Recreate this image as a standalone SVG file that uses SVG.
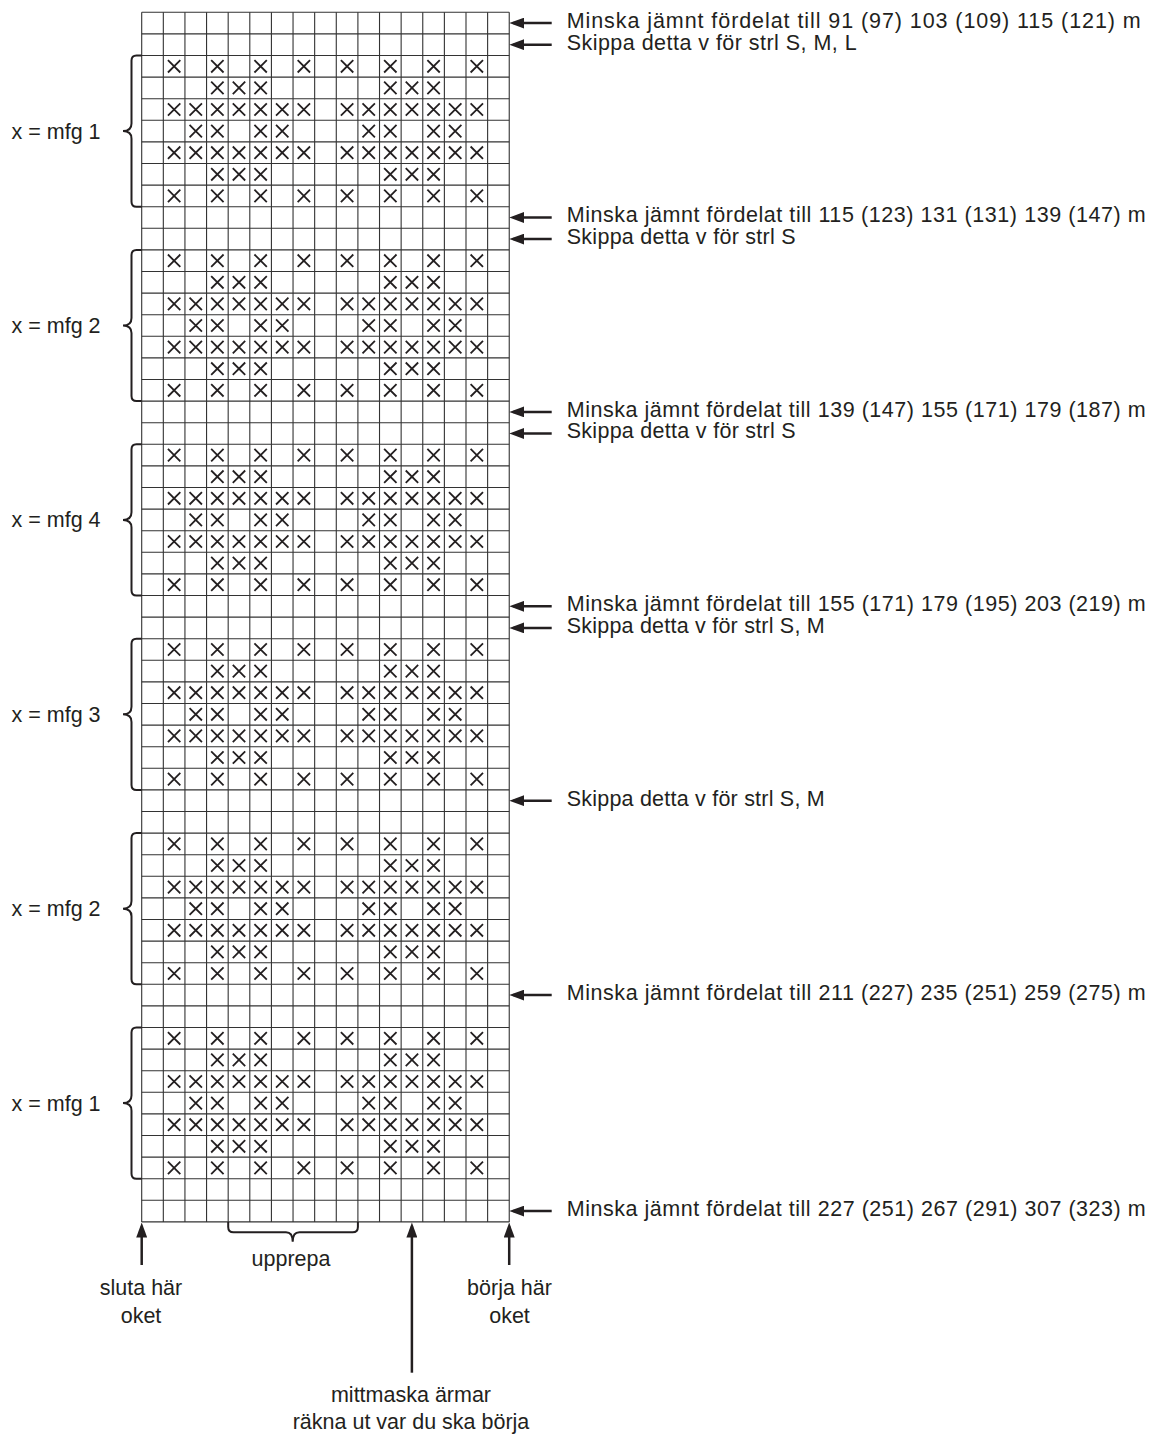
<svg xmlns="http://www.w3.org/2000/svg" xmlns:xlink="http://www.w3.org/1999/xlink" width="1156" height="1437" viewBox="0 0 1156 1437">
<style>
text{font-family:"Liberation Sans",Arial,sans-serif;font-size:21.5px;fill:#231f20}
.note{font-size:21.5px}
.grid{fill:none;stroke:#333;stroke-width:1.1}
.xm{fill:none;stroke:#231f20;stroke-width:1.8}
.brace{fill:none;stroke:#231f20;stroke-width:2}
.conn{fill:none;stroke:#231f20;stroke-width:2.5;marker-end:url(#ah)}
.mid{text-anchor:middle}
</style>
<defs>
<marker id="ah" markerUnits="userSpaceOnUse" markerWidth="16" markerHeight="11" refX="11" refY="5.5" orient="auto"><path d="M0,0 L15,5.5 L0,11 z" fill="#231f20"/></marker>
<path id="x" d="M-6.2,-6.2 L6.2,6.2 M6.2,-6.2 L-6.2,6.2" class="xm"/>
<g id="rA"><use href="#x" x="174.13"/><use href="#x" x="217.37"/><use href="#x" x="260.61"/><use href="#x" x="303.85"/><use href="#x" x="347.09"/><use href="#x" x="390.33"/><use href="#x" x="433.57"/><use href="#x" x="476.81"/></g>
<g id="rB"><use href="#x" x="217.37"/><use href="#x" x="238.99"/><use href="#x" x="260.61"/><use href="#x" x="390.33"/><use href="#x" x="411.95"/><use href="#x" x="433.57"/></g>
<g id="rC"><use href="#x" x="174.13"/><use href="#x" x="195.75"/><use href="#x" x="217.37"/><use href="#x" x="238.99"/><use href="#x" x="260.61"/><use href="#x" x="282.23"/><use href="#x" x="303.85"/><use href="#x" x="347.09"/><use href="#x" x="368.71"/><use href="#x" x="390.33"/><use href="#x" x="411.95"/><use href="#x" x="433.57"/><use href="#x" x="455.19"/><use href="#x" x="476.81"/></g>
<g id="rD"><use href="#x" x="195.75"/><use href="#x" x="217.37"/><use href="#x" x="260.61"/><use href="#x" x="282.23"/><use href="#x" x="368.71"/><use href="#x" x="390.33"/><use href="#x" x="433.57"/><use href="#x" x="455.19"/></g>
<g id="blk"><use href="#rA" y="10.8"/><use href="#rB" y="32.4"/><use href="#rC" y="54"/><use href="#rD" y="75.6"/><use href="#rC" y="97.2"/><use href="#rB" y="118.8"/><use href="#rA" y="140.4"/></g>
<path id="br" class="brace" d="M141.7,0 H136.5 Q131.5,0 131.5,5 V68 Q131.5,75.6 123,75.6 Q131.5,75.6 131.5,83.2 V146.2 Q131.5,151.2 136.5,151.2 H141.7"/>
</defs>
<rect width="1156" height="1437" fill="#fff"/>
<g id="chart-grid">
<path class="grid" d="M141.7,12.3h367.54M141.7,33.9h367.54M141.7,55.5h367.54M141.7,77.1h367.54M141.7,98.7h367.54M141.7,120.3h367.54M141.7,141.9h367.54M141.7,163.5h367.54M141.7,185.1h367.54M141.7,206.7h367.54M141.7,228.3h367.54M141.7,249.9h367.54M141.7,271.5h367.54M141.7,293.1h367.54M141.7,314.7h367.54M141.7,336.3h367.54M141.7,357.9h367.54M141.7,379.5h367.54M141.7,401.1h367.54M141.7,422.7h367.54M141.7,444.3h367.54M141.7,465.9h367.54M141.7,487.5h367.54M141.7,509.1h367.54M141.7,530.7h367.54M141.7,552.3h367.54M141.7,573.9h367.54M141.7,595.5h367.54M141.7,617.1h367.54M141.7,638.7h367.54M141.7,660.3h367.54M141.7,681.9h367.54M141.7,703.5h367.54M141.7,725.1h367.54M141.7,746.7h367.54M141.7,768.3h367.54M141.7,789.9h367.54M141.7,811.5h367.54M141.7,833.1h367.54M141.7,854.7h367.54M141.7,876.3h367.54M141.7,897.9h367.54M141.7,919.5h367.54M141.7,941.1h367.54M141.7,962.7h367.54M141.7,984.3h367.54M141.7,1005.9h367.54M141.7,1027.5h367.54M141.7,1049.1h367.54M141.7,1070.7h367.54M141.7,1092.3h367.54M141.7,1113.9h367.54M141.7,1135.5h367.54M141.7,1157.1h367.54M141.7,1178.7h367.54M141.7,1200.3h367.54M141.7,1221.9h367.54"/>
<path class="grid" d="M141.7,12.3v1209.6M163.32,12.3v1209.6M184.94,12.3v1209.6M206.56,12.3v1209.6M228.18,12.3v1209.6M249.8,12.3v1209.6M271.42,12.3v1209.6M293.04,12.3v1209.6M314.66,12.3v1209.6M336.28,12.3v1209.6M357.9,12.3v1209.6M379.52,12.3v1209.6M401.14,12.3v1209.6M422.76,12.3v1209.6M444.38,12.3v1209.6M466,12.3v1209.6M487.62,12.3v1209.6M509.24,12.3v1209.6"/>
</g>
<g id="block-1"><use href="#blk" y="55.5"/><use href="#br" y="55.5"/><text x="11.5" y="138.6">x = mfg 1</text></g>
<g id="block-2"><use href="#blk" y="249.9"/><use href="#br" y="249.9"/><text x="11.5" y="333">x = mfg 2</text></g>
<g id="block-3"><use href="#blk" y="444.3"/><use href="#br" y="444.3"/><text x="11.5" y="527.4">x = mfg 4</text></g>
<g id="block-4"><use href="#blk" y="638.7"/><use href="#br" y="638.7"/><text x="11.5" y="721.8">x = mfg 3</text></g>
<g id="block-5"><use href="#blk" y="833.1"/><use href="#br" y="833.1"/><text x="11.5" y="916.2">x = mfg 2</text></g>
<g id="block-6"><use href="#blk" y="1027.5"/><use href="#br" y="1027.5"/><text x="11.5" y="1110.6">x = mfg 1</text></g>
<g id="repeat-brace"><path class="brace" d="M228.2,1221.9 V1227 Q228.2,1232.3 233.5,1232.3 H286 Q292.7,1232.3 292.7,1241.7 Q292.7,1232.3 299.4,1232.3 H352.6 Q357.9,1232.3 357.9,1227 V1221.9"/><text class="mid" x="291" y="1266">upprepa</text></g>
<g id="connectors">
<path class="conn" d="M551.7,23.1 H513.3"/>
<path class="conn" d="M551.7,44.7 H513.3"/>
<path class="conn" d="M551.7,217.5 H513.3"/>
<path class="conn" d="M551.7,239.1 H513.3"/>
<path class="conn" d="M551.7,411.9 H513.3"/>
<path class="conn" d="M551.7,433.5 H513.3"/>
<path class="conn" d="M551.7,606.3 H513.3"/>
<path class="conn" d="M551.7,627.9 H513.3"/>
<path class="conn" d="M551.7,800.7 H513.3"/>
<path class="conn" d="M551.7,995.1 H513.3"/>
<path class="conn" d="M551.7,1211.1 H513.3"/>
<path class="conn" d="M141.7,1265 V1226.5"/>
<path class="conn" d="M411.9,1372.7 V1226.5"/>
<path class="conn" d="M509.2,1265 V1226.5"/>
</g>
<g id="notes">
<text class="note" x="566.7" y="27.9" textLength="574" lengthAdjust="spacing">Minska jämnt fördelat till 91 (97) 103 (109) 115 (121) m</text>
<text class="note" x="566.7" y="49.5" textLength="290" lengthAdjust="spacing">Skippa detta v för strl S, M, L</text>
<text class="note" x="566.7" y="222.3" textLength="579" lengthAdjust="spacing">Minska jämnt fördelat till 115 (123) 131 (131) 139 (147) m</text>
<text class="note" x="566.7" y="243.9" textLength="229" lengthAdjust="spacing">Skippa detta v för strl S</text>
<text class="note" x="566.7" y="416.7" textLength="579" lengthAdjust="spacing">Minska jämnt fördelat till 139 (147) 155 (171) 179 (187) m</text>
<text class="note" x="566.7" y="438.3" textLength="229" lengthAdjust="spacing">Skippa detta v för strl S</text>
<text class="note" x="566.7" y="611.1" textLength="579" lengthAdjust="spacing">Minska jämnt fördelat till 155 (171) 179 (195) 203 (219) m</text>
<text class="note" x="566.7" y="632.7" textLength="258" lengthAdjust="spacing">Skippa detta v för strl S, M</text>
<text class="note" x="566.7" y="805.5" textLength="258" lengthAdjust="spacing">Skippa detta v för strl S, M</text>
<text class="note" x="566.7" y="999.9" textLength="579" lengthAdjust="spacing">Minska jämnt fördelat till 211 (227) 235 (251) 259 (275) m</text>
<text class="note" x="566.7" y="1215.9" textLength="579" lengthAdjust="spacing">Minska jämnt fördelat till 227 (251) 267 (291) 307 (323) m</text>
</g>
<g id="label-end"><text class="mid" x="141" y="1295">sluta här</text><text class="mid" x="141" y="1322.5">oket</text></g>
<g id="label-start"><text class="mid" x="509.5" y="1295">börja här</text><text class="mid" x="509.5" y="1322.5">oket</text></g>
<g id="label-mid"><text class="mid" x="411" y="1401.5">mittmaska ärmar</text><text class="mid" x="411" y="1428.5">räkna ut var du ska börja</text></g>
</svg>
